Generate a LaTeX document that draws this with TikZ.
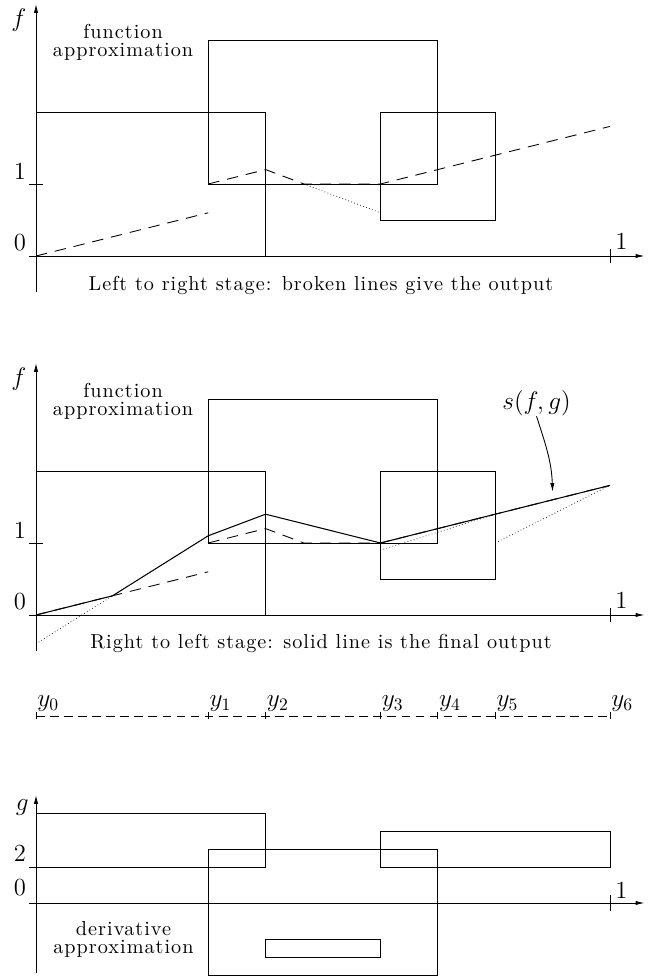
\documentclass[tikz,border=0pt]{standalone}
\usepackage{amsmath}
\usepackage{fontspec}
\newfontfamily\spacedfont{lmroman10-regular.otf}[LetterSpace=5]
\usepackage{tikz}
\usetikzlibrary{arrows.meta,positioning,calc}

\begin{document}
\begin{tikzpicture}[
  ax/.style={line width=0.5pt, -{Latex[length=5pt,width=2.4pt]}},
  bx/.style={line width=0.5pt},
  brk/.style={line width=0.5pt, dash pattern=on 6.5pt off 4.5pt},
  dts/.style={line width=0.4pt, dash pattern=on 0.4pt off 1.4pt},
  sol/.style={line width=0.6pt},
  scl/.style={line width=0.5pt, dash pattern=on 5pt off 3pt},
  num/.style={font=\fontsize{14}{16}\selectfont, inner sep=0pt},
  txt/.style={font=\spacedfont\fontsize{11.5}{10}\selectfont,
              align=center, inner sep=0pt}
]

\useasboundingbox (0,0) rectangle (13.32,19.56);

% ======= the two function panels =======
\foreach \n/\oy in {1/14.44, 2/7.26} {
  \begin{scope}[shift={(0.72cm,\oy cm)}, x=11.48cm, y=1.44cm]
    \draw[ax] (0,-0.5) -- (0,3.5);
    \draw[ax] (-0.012,0) -- (1.06,0);
    \draw[bx] (-0.012,1) -- (0.012,1);
    \draw[bx] (1,-0.1) -- (1,0.1);
    \node[num] (f\n) at (-0.03,3.28) {$f$};
    \node[num] (fone\n) at (-0.028,1.17) {1};
    \node[num] (fzero\n) at (-0.028,0.18) {0};
    \node[num] (xone\n) at (1.02,0.2) {1};
    \node[txt] (fapp\n) at (0.1516,2.965) {function\\approximation};
    % boxes
    \draw[bx] (0,0) rectangle (0.4,2);
    \draw[bx] (0.3,1) rectangle (0.7,3);
    \draw[bx] (0.6,0.5) rectangle (0.8,2);
    % broken lines
    \draw[brk] (0,0) -- (0.3,0.6);
    \draw[brk] (0.3,1) -- (0.4,1.2) -- (0.4667,1) -- (0.6,1) -- (1,1.8);
  \end{scope}
}

% ======= Left to right stage =======
\begin{scope}[shift={(0.72cm,14.44cm)}, x=11.48cm, y=1.44cm]
  \draw[dts] (0.4667,1) -- (0.6,0.6);
  \node[txt] (cap1) at (0.4965,-0.403) {Left to right stage: broken lines give the output};
\end{scope}

% ======= Right to left stage =======
\begin{scope}[shift={(0.72cm,7.26cm)}, x=11.48cm, y=1.44cm]
  \draw[dts] (0,-0.4) -- (0.1333,0.2667);
  \draw[dts] (0.6,0.9) -- (0.8,1.4);
  \draw[dts] (0.8,1) -- (1,1.8);
  \draw[sol] (0,0) -- (0.1333,0.2667) -- (0.3,1.1) -- (0.4,1.4) -- (0.6,1) -- (1,1.8);
  \node[num] (sfg) at (0.872,2.94) {$s(f,g)$};
  \coordinate (sfgtip) at (0.9,1.71);
  \draw[line width=0.5pt, -{Latex[length=5pt,width=2.4pt]}] (sfg.south) to[out=-72,in=92] (sfgtip);
  \node[txt] (cap2) at (0.4965,-0.393) {Right to left stage: solid line is the final output};
\end{scope}

% ======= grid points =======
\begin{scope}[shift={(0.72cm,5.24cm)}, x=11.48cm]
  \draw[scl] (0,0) -- (1,0);
  \foreach \x/\i in {0/0, 0.3/1, 0.4/2, 0.6/3, 0.7/4, 0.8/5, 1/6} {
    \draw[bx] (\x,-0.07) -- (\x,0.07);
    \node[num, anchor=base west] (y\i) at ([shift={(0.02cm,0.19cm)}]\x,0) {$y_{\i}$};
  }
\end{scope}

% ======= derivative panel =======
\begin{scope}[shift={(0.72cm,1.5cm)}, x=11.48cm, y=0.36cm]
  \draw[ax] (0,-3.9) -- (0,6);
  \draw[ax] (-0.012,0) -- (1.06,0);
  \draw[bx] (-0.012,2) -- (0.012,2);
  \draw[bx] (1,-0.42) -- (1,0.42);
  \node[num] (g) at (-0.024,5.28) {$g$};
  \node[num] (gtwo) at (-0.028,2.78) {2};
  \node[num] (gzero) at (-0.028,0.83) {0};
  \node[num] (gone) at (1.02,0.72) {1};
  \node[txt] (dapp) at (0.1524,-2.03) {derivative\\approximation};
  % boxes
  \draw[bx] (0,2) rectangle (0.4,5);
  \draw[bx] (0.3,-4) rectangle (0.7,3);
  \draw[bx] (0.6,2) rectangle (1,4);
  \draw[bx] (0.4,-3) rectangle (0.6,-2);
\end{scope}

\end{tikzpicture}
\end{document}
